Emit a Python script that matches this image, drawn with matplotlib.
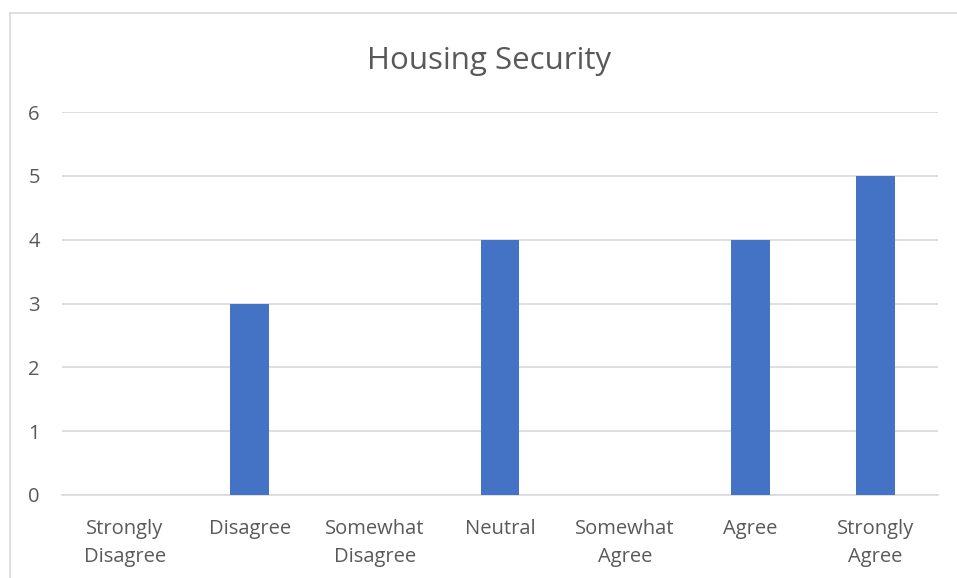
import matplotlib
matplotlib.use("Agg")
import matplotlib.pyplot as plt
from matplotlib.lines import Line2D

categories = ["Strongly\nDisagree", "Disagree", "Somewhat\nDisagree", "Neutral",
              "Somewhat\nAgree", "Agree", "Strongly\nAgree"]
values = [0, 3, 0, 4, 0, 4, 5]
yticks = [0, 1, 2, 3, 4, 5, 6]

W, H = 957, 578
fig = plt.figure(figsize=(W / 100, H / 100), dpi=100)
plt.rcParams['font.family'] = ['Open Sans', 'DejaVu Sans']

ax = fig.add_axes([62 / W, 1 - 495 / H, (938 - 62) / W, (495 - 112) / H])
x = list(range(len(categories)))
ax.bar(x, values, width=0.31, color="#4472C4", zorder=3)
ax.set_xlim(-0.5, len(categories) - 0.5)
ax.set_ylim(0, 6)
ax.set_yticks(yticks)
ax.set_xticks(x)
ax.set_xticklabels(categories, fontsize=14.5, color="#595959", linespacing=1.58)
ax.tick_params(axis='y', labelsize=14.5, labelcolor="#595959", length=0, pad=16)
ax.tick_params(axis='x', length=0, pad=17)
ax.grid(axis='y', color="#d9d9d9", linewidth=1.2, zorder=0)
for s in ["top", "right", "left"]:
    ax.spines[s].set_visible(False)
ax.spines["bottom"].set_color("#d9d9d9")
ax.spines["bottom"].set_linewidth(1.2)

fig.text(489 / W, 1 - 61 / H, "Housing Security", ha="center", va="center",
         fontsize=22.5, color="#595959")

# chart border (left and top edges visible)
fig.add_artist(Line2D([10 / W, 10 / W], [0, 1 - 13 / H], transform=fig.transFigure,
                      color="#d9d9d9", linewidth=1.2))
fig.add_artist(Line2D([10 / W, 1], [1 - 13 / H, 1 - 13 / H], transform=fig.transFigure,
                      color="#d9d9d9", linewidth=1.2))

fig.savefig("out.png", dpi=100)
